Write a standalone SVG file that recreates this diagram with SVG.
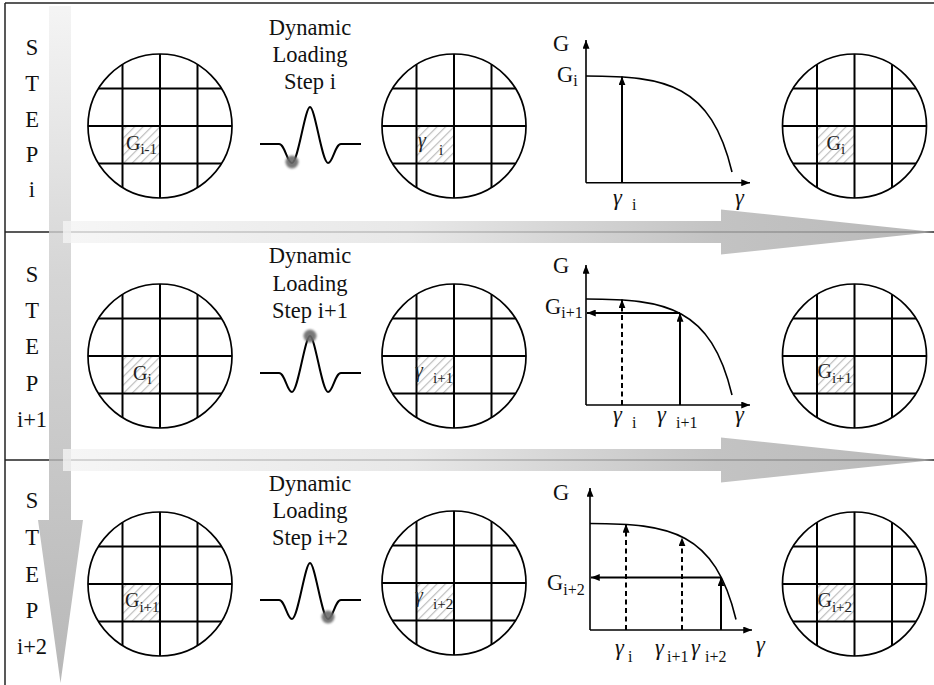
<svg xmlns="http://www.w3.org/2000/svg" width="934" height="685" viewBox="0 0 934 685" font-family="Liberation Serif, serif">
<style>
text{fill:#111;font-family:"Liberation Serif",serif}
.big{font-size:22.5px}
.mid{text-anchor:middle}
.cg{font-size:20px;fill:#222}
.cs{font-size:15px;fill:#222}
.gs{font-size:16px}
.gam{font-style:italic}
.ax{stroke:#000;stroke-width:1.6;fill:none}
.ar{stroke:#000;stroke-width:2;fill:none}
.dash{stroke-dasharray:5 3.5}
.frame{stroke:#222;stroke-width:1.5;fill:none}
.gl{stroke:#000;stroke-width:2}
.wave{fill:none;stroke:#000;stroke-width:2}
.dot{fill:#6a6a6a;opacity:0.9}
</style>
<defs>
<pattern id="hatch" patternUnits="userSpaceOnUse" width="6" height="6" patternTransform="rotate(45)">
<rect width="6" height="6" fill="#fff"/>
<line x1="0" y1="0" x2="0" y2="6" stroke="#bdbdbd" stroke-width="2.4"/>
</pattern>
<linearGradient id="hg" gradientUnits="userSpaceOnUse" x1="63" y1="0" x2="934" y2="0">
<stop offset="0" stop-color="#f4f4f4"/>
<stop offset="0.4" stop-color="#e2e2e2"/>
<stop offset="0.75" stop-color="#b4b4b4"/>
<stop offset="1" stop-color="#a8a8a8"/>
</linearGradient>
<linearGradient id="vg" gradientUnits="userSpaceOnUse" x1="0" y1="5" x2="0" y2="683">
<stop offset="0" stop-color="#f2f2f2"/>
<stop offset="0.4" stop-color="#cbcbcb"/>
<stop offset="1" stop-color="#a6a6a6"/>
</linearGradient>
<filter id="blur" x="-50%" y="-50%" width="200%" height="200%"><feGaussianBlur stdDeviation="0.8"/></filter>
<marker id="ah" viewBox="0 0 10 8" refX="10" refY="4" markerWidth="9" markerHeight="7" orient="auto" markerUnits="userSpaceOnUse">
<path d="M0,0 L10,4 L0,8 z" fill="#000"/>
</marker>
<g id="grid">
<circle cx="0" cy="0" r="72" fill="none" stroke="#000" stroke-width="1.7"/>
<line class="gl" x1="-37.5" y1="-61.5" x2="-37.5" y2="61.5"/>
<line class="gl" x1="0" y1="-72" x2="0" y2="72"/>
<line class="gl" x1="37.5" y1="-61.5" x2="37.5" y2="61.5"/>
<line class="gl" x1="-61.5" y1="-37.5" x2="61.5" y2="-37.5"/>
<line class="gl" x1="-72" y1="0" x2="72" y2="0"/>
<line class="gl" x1="-61.5" y1="37.5" x2="61.5" y2="37.5"/>
</g>
<path id="wv" class="wave" d="M260,144 H279 C285,144 287,163 292,163 C298,163 305,107 310,107 C315,107 322,163 328,163 C333,163 335,144 341,144 H361"/>
</defs>

<g id="frame">
<line class="frame" x1="5" y1="3" x2="934" y2="3"/>
<line class="frame" x1="5" y1="3" x2="5" y2="685"/>
<line class="frame" x1="5" y1="232" x2="934" y2="232"/>
<line class="frame" x1="5" y1="460" x2="934" y2="460"/>
</g>

<g id="connectors">
<path d="M49,6 H71 V520 H83 L60.5,683 L38,520 H49 Z" fill="url(#vg)" opacity="0.8"/>
<path d="M63,221 H721 V209.5 L934,232 L721,254.5 V243 H63 Z" fill="url(#hg)" opacity="0.8"/>
<path d="M63,449 H721 V437.5 L934,460 L721,482.5 V471 H63 Z" fill="url(#hg)" opacity="0.8"/>
</g>

<g id="row1">
<g id="step-i" class="big mid">
<text x="32" y="55">S</text><text x="32" y="91">T</text><text x="32" y="127">E</text><text x="32" y="162">P</text><text x="32" y="197">i</text>
</g>
<g id="r1-mesh-in" transform="translate(160,126)">
<rect x="-37.5" y="0" width="37.5" height="37.5" fill="url(#hatch)"/>
<use href="#grid"/>
<text class="cg" x="-34" y="24">G<tspan class="cs" dy="4">i-1</tspan></text>
</g>
<g id="r1-load">
<text class="big mid" x="310" y="35">Dynamic</text>
<text class="big mid" x="310" y="62">Loading</text>
<text class="big mid" x="310" y="89">Step i</text>
<use href="#wv"/>
<circle class="dot" cx="292" cy="162" r="6.5" filter="url(#blur)"/>
</g>
<g id="r1-mesh-strain" transform="translate(454,126)">
<rect x="-37.5" y="0" width="37.5" height="37.5" fill="url(#hatch)"/>
<use href="#grid"/>
<text class="cg gam" x="-36" y="21">γ</text><text class="cs" x="-15" y="29">i</text>
</g>
<g id="r1-graph">
<line class="ax" x1="586" y1="182.7" x2="586" y2="40" marker-end="url(#ah)"/>
<line class="ax" x1="586" y1="182.7" x2="750" y2="182.7" marker-end="url(#ah)"/>
<path class="ax" d="M586,76 C666,76 711,84 732,172"/>
<line class="ar" x1="622" y1="182.7" x2="622" y2="76.5" marker-end="url(#ah)"/>
<text class="big" x="553" y="51">G</text>
<text class="big" x="557" y="82">G<tspan class="gs" dy="4">i</tspan></text>
<text class="big gam" x="613" y="205">γ</text><text class="gs" x="632" y="210">i</text>
<text class="big gam" x="735" y="205">γ</text>
</g>
<g id="r1-mesh-out" transform="translate(854.5,126)">
<rect x="-37.5" y="0" width="37.5" height="37.5" fill="url(#hatch)"/>
<use href="#grid"/>
<text class="cg" x="-28" y="24">G<tspan class="cs" dy="4">i</tspan></text>
</g>
</g>

<g id="row2">
<g id="step-i1" class="big mid">
<text x="32" y="282">S</text><text x="32" y="318">T</text><text x="32" y="354">E</text><text x="32" y="391">P</text><text x="32" y="427">i+1</text>
</g>
<g id="r2-mesh-in" transform="translate(160,356)">
<rect x="-37.5" y="0" width="37.5" height="37.5" fill="url(#hatch)"/>
<use href="#grid"/>
<text class="cg" x="-27" y="24">G<tspan class="cs" dy="4">i</tspan></text>
</g>
<g id="r2-load">
<text class="big mid" x="310" y="263">Dynamic</text>
<text class="big mid" x="310" y="291">Loading</text>
<text class="big mid" x="310" y="318">Step i+1</text>
<use href="#wv" transform="translate(0,229)"/>
<circle class="dot" cx="310" cy="336" r="6.5" filter="url(#blur)"/>
</g>
<g id="r2-mesh-strain" transform="translate(454,356)">
<rect x="-37.5" y="0" width="37.5" height="37.5" fill="url(#hatch)"/>
<use href="#grid"/>
<text class="cg gam" x="-39" y="21">γ</text><text class="cs" x="-21" y="27">i+1</text>
</g>
<g id="r2-graph">
<line class="ax" x1="586" y1="405" x2="586" y2="265" marker-end="url(#ah)"/>
<line class="ax" x1="586" y1="405" x2="750" y2="405" marker-end="url(#ah)"/>
<path class="ax" d="M586,299 C666,299 711,307 732,395"/>
<line class="ar dash" x1="622" y1="405" x2="622" y2="299.5" marker-end="url(#ah)"/>
<line class="ar" x1="680" y1="405" x2="680" y2="313" marker-end="url(#ah)"/>
<line class="ar" x1="680" y1="313" x2="587" y2="313" marker-end="url(#ah)"/>
<text class="big" x="553" y="273">G</text>
<text class="big" x="545" y="314">G<tspan class="gs" dy="4">i+1</tspan></text>
<text class="big gam" x="613" y="422">γ</text><text class="gs" x="632" y="428">i</text>
<text class="big gam" x="657" y="422">γ</text><text class="gs" x="676" y="428">i+1</text>
<text class="big gam" x="735" y="422">γ</text>
</g>
<g id="r2-mesh-out" transform="translate(854.5,356)">
<rect x="-37.5" y="0" width="37.5" height="37.5" fill="url(#hatch)"/>
<use href="#grid"/>
<text class="cg" x="-37" y="22">G<tspan class="cs" dy="5">i+1</tspan></text>
</g>
</g>

<g id="row3">
<g id="step-i2" class="big mid">
<text x="32" y="508">S</text><text x="32" y="545">T</text><text x="32" y="582">E</text><text x="32" y="618">P</text><text x="32" y="654">i+2</text>
</g>
<g id="r3-mesh-in" transform="translate(160,584)">
<rect x="-37.5" y="0" width="37.5" height="37.5" fill="url(#hatch)"/>
<use href="#grid"/>
<text class="cg" x="-35" y="23">G<tspan class="cs" dy="5">i+1</tspan></text>
</g>
<g id="r3-load">
<text class="big mid" x="310" y="491">Dynamic</text>
<text class="big mid" x="310" y="518">Loading</text>
<text class="big mid" x="310" y="545">Step i+2</text>
<use href="#wv" transform="translate(0,456)"/>
<circle class="dot" cx="328" cy="617" r="6.5" filter="url(#blur)"/>
</g>
<g id="r3-mesh-strain" transform="translate(454,583)">
<rect x="-37.5" y="0" width="37.5" height="37.5" fill="url(#hatch)"/>
<use href="#grid"/>
<text class="cg gam" x="-39" y="19">γ</text><text class="cs" x="-21" y="26">i+2</text>
</g>
<g id="r3-graph">
<line class="ax" x1="590" y1="630" x2="590" y2="488" marker-end="url(#ah)"/>
<line class="ax" x1="590" y1="630" x2="752" y2="630" marker-end="url(#ah)"/>
<path class="ax" d="M590,523.5 C670,523.5 715,531.5 736,619.5"/>
<line class="ar dash" x1="626" y1="630" x2="626" y2="524" marker-end="url(#ah)"/>
<line class="ar dash" x1="682" y1="630" x2="682" y2="537.5" marker-end="url(#ah)"/>
<line class="ar" x1="721" y1="630" x2="721" y2="577.5" marker-end="url(#ah)"/>
<line class="ar" x1="721" y1="577.5" x2="591" y2="577.5" marker-end="url(#ah)"/>
<text class="big" x="553" y="500">G</text>
<text class="big" x="547" y="590">G<tspan class="gs" dy="5">i+2</tspan></text>
<text class="big gam" x="615" y="655">γ</text><text class="gs" x="628" y="662">i</text>
<text class="big gam" x="655" y="655">γ</text><text class="gs" x="667" y="662">i+1</text>
<text class="big gam" x="691" y="655">γ</text><text class="gs" x="705" y="662">i+2</text>
<text class="big gam" x="756" y="652">γ</text>
</g>
<g id="r3-mesh-out" transform="translate(854.5,584)">
<rect x="-37.5" y="0" width="37.5" height="37.5" fill="url(#hatch)"/>
<use href="#grid"/>
<text class="cg" x="-37" y="23">G<tspan class="cs" dy="5">i+2</tspan></text>
</g>
</g>
</svg>
